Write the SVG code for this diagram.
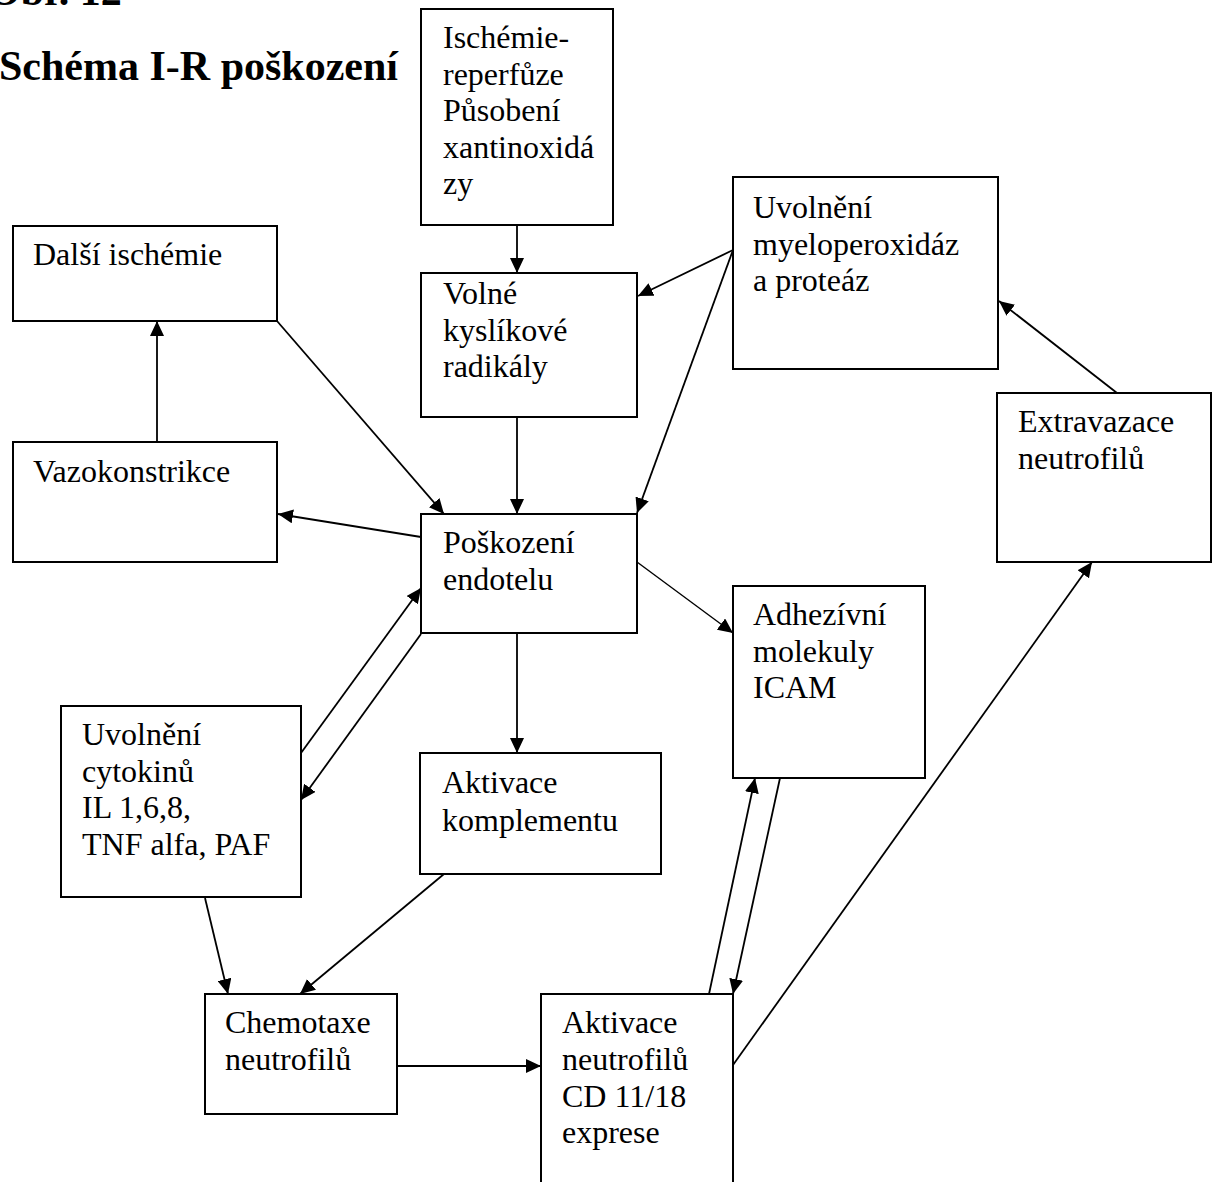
<svg xmlns="http://www.w3.org/2000/svg" width="1212" height="1182" viewBox="0 0 1212 1182">
<style>
.box{fill:#fff;stroke:#000;stroke-width:2}
.t{font-family:"Liberation Serif","Times New Roman",serif;font-size:32px;fill:#000}
.title{font-family:"Liberation Serif","Times New Roman",serif;font-size:42px;font-weight:bold;fill:#000}
.c{fill:none;stroke:#000;stroke-width:1.8}
.thin{stroke-width:1.4}
</style>
<defs>
<marker id="ah" markerUnits="userSpaceOnUse" markerWidth="16" markerHeight="14" refX="15" refY="7" orient="auto">
<path d="M0,0 L15,7 L0,14 z" fill="#000"/>
</marker>
</defs>
<rect width="1212" height="1182" fill="#fff"/>
<text class="title" x="-12" y="5">Obr. 12</text>
<text class="title" x="-1" y="80">Schéma I-R poškození</text>

<g id="n-ischemie">
<rect class="box" x="421" y="9" width="192" height="216"/>
<text class="t" x="443" y="48">Ischémie-</text>
<text class="t" x="443" y="84.5">reperfůze</text>
<text class="t" x="443" y="121">Působení</text>
<text class="t" x="443" y="157.5">xantinoxidá</text>
<text class="t" x="443" y="194">zy</text>
</g>
<g id="n-volne">
<rect class="box" x="421" y="273" width="216" height="144"/>
<text class="t" x="443" y="304">Volné</text>
<text class="t" x="443" y="340.5">kyslíkové</text>
<text class="t" x="443" y="377">radikály</text>
</g>
<g id="n-dalsi">
<rect class="box" x="13" y="226" width="264" height="95"/>
<text class="t" x="33" y="265">Další ischémie</text>
</g>
<g id="n-vazo">
<rect class="box" x="13" y="442" width="264" height="120"/>
<text class="t" x="33" y="482">Vazokonstrikce</text>
</g>
<g id="n-myelo">
<rect class="box" x="733" y="177" width="265" height="192"/>
<text class="t" x="753" y="218">Uvolnění</text>
<text class="t" x="753" y="254.5">myeloperoxidáz</text>
<text class="t" x="753" y="291">a proteáz</text>
</g>
<g id="n-extra">
<rect class="box" x="997" y="393" width="214" height="169"/>
<text class="t" x="1018" y="432">Extravazace</text>
<text class="t" x="1018" y="469">neutrofilů</text>
</g>
<g id="n-poskozeni">
<rect class="box" x="421" y="514" width="216" height="119"/>
<text class="t" x="443" y="553">Poškození</text>
<text class="t" x="443" y="590">endotelu</text>
</g>
<g id="n-adhez">
<rect class="box" x="733" y="586" width="192" height="192"/>
<text class="t" x="753" y="625">Adhezívní</text>
<text class="t" x="753" y="661.5">molekuly</text>
<text class="t" x="753" y="698">ICAM</text>
</g>
<g id="n-cytokiny">
<rect class="box" x="61" y="706" width="240" height="191"/>
<text class="t" x="82" y="745">Uvolnění</text>
<text class="t" x="82" y="782">cytokinů</text>
<text class="t" x="82" y="818">IL 1,6,8,</text>
<text class="t" x="82" y="855">TNF alfa, PAF</text>
</g>
<g id="n-komplement">
<rect class="box" x="420" y="753" width="241" height="121"/>
<text class="t" x="442" y="793">Aktivace</text>
<text class="t" x="442" y="830.5">komplementu</text>
</g>
<g id="n-chemotaxe">
<rect class="box" x="205" y="994" width="192" height="120"/>
<text class="t" x="225" y="1033">Chemotaxe</text>
<text class="t" x="225" y="1070">neutrofilů</text>
</g>
<g id="n-aktivace">
<rect class="box" x="541" y="994" width="192" height="210"/>
<text class="t" x="562" y="1033">Aktivace</text>
<text class="t" x="562" y="1070">neutrofilů</text>
<text class="t" x="562" y="1107">CD 11/18</text>
<text class="t" x="562" y="1143">exprese</text>
</g>

<g id="connectors">
<line class="c" x1="517" y1="225" x2="517" y2="273" marker-end="url(#ah)"/>
<line class="c" x1="517" y1="417" x2="517" y2="514" marker-end="url(#ah)"/>
<line class="c" x1="733" y1="250" x2="638" y2="296" marker-end="url(#ah)"/>
<line class="c" x1="733" y1="250" x2="637" y2="513" marker-end="url(#ah)"/>
<line class="c" x1="1117" y1="393" x2="999" y2="301" marker-end="url(#ah)"/>
<line class="c" x1="277" y1="321" x2="444" y2="514" marker-end="url(#ah)"/>
<line class="c" x1="157" y1="442" x2="157" y2="321" marker-end="url(#ah)"/>
<line class="c" x1="421" y1="537" x2="278" y2="514" marker-end="url(#ah)"/>
<line class="c thin" x1="637" y1="562" x2="733" y2="633" marker-end="url(#ah)"/>
<line class="c" x1="301" y1="753" x2="421" y2="588" marker-end="url(#ah)"/>
<line class="c" x1="421" y1="634" x2="301" y2="800" marker-end="url(#ah)"/>
<line class="c" x1="517" y1="634" x2="517" y2="753" marker-end="url(#ah)"/>
<line class="c" x1="205" y1="898" x2="228" y2="994" marker-end="url(#ah)"/>
<line class="c" x1="444" y1="874" x2="300" y2="994" marker-end="url(#ah)"/>
<line class="c" x1="397" y1="1066" x2="541" y2="1066" marker-end="url(#ah)"/>
<line class="c" x1="709" y1="994" x2="755" y2="778" marker-end="url(#ah)"/>
<line class="c" x1="780" y1="778" x2="733" y2="994" marker-end="url(#ah)"/>
<line class="c" x1="733" y1="1065" x2="1092" y2="562" marker-end="url(#ah)"/>
</g>
</svg>
